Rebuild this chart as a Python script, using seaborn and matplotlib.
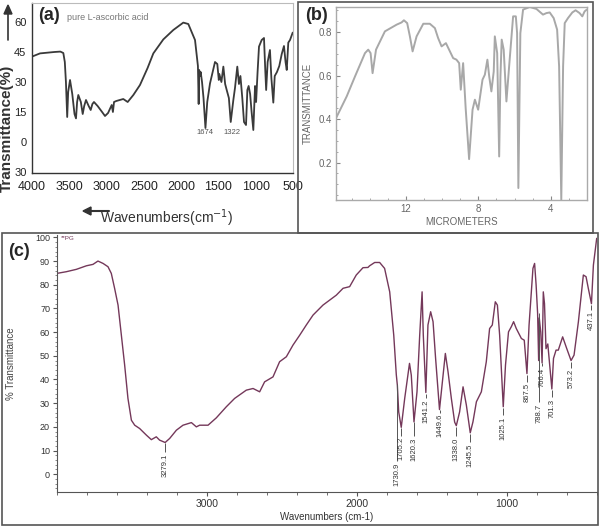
import matplotlib
matplotlib.use("Agg")
import matplotlib.pyplot as plt
from matplotlib.patches import Rectangle
from matplotlib.ticker import MultipleLocator
import seaborn as sns

# -----------------------------
# (a) pure L-ascorbic acid, % transmittance vs wavenumber
# -----------------------------
a_wavenumber = [4000, 3893, 3700, 3620, 3580, 3560, 3545, 3528, 3515, 3490, 3460, 3430,
                3410, 3395, 3379, 3345, 3320, 3300, 3276, 3240, 3213, 3190, 3169, 3120,
                3060, 3021, 2980, 2931, 2915, 2900, 2870, 2776, 2717, 2641, 2552, 2450,
                2373, 2239, 2105, 1971, 1904, 1814, 1775, 1765, 1758, 1748, 1738, 1720,
                1700, 1674, 1650, 1613, 1546, 1515, 1495, 1488, 1460, 1434, 1410, 1389,
                1360, 1335, 1300, 1278, 1247, 1225, 1205, 1180, 1157, 1130, 1112, 1095,
                1075, 1055, 1032, 1009, 995, 975, 956, 920, 889, 872, 860, 840, 809,
                790, 764, 745, 715, 684, 651, 621, 600, 584, 563, 540, 504]
a_transmittance = [42.7, 44.3, 45.0, 45.2, 44.5, 40, 30, 12.5, 25, 31, 24, 14,
                   11.8, 20, 23.5, 20, 14, 18, 21, 18, 16, 19, 20, 18,
                   15, 13, 14.5, 18.5, 15, 20, 20.5, 21.5, 20, 23.5, 28.5, 37,
                   44.3, 51.3, 56, 59.7, 59, 51, 38, 19, 36, 33, 35, 30,
                   22, 7, 20, 29.3, 40, 39, 31, 34, 30, 37.7, 29, 26,
                   22, 10, 21, 27, 37.7, 29, 33, 22, 10, 8.5, 26, 28,
                   24, 15, 6, 28, 20, 35, 47.7, 51, 52, 36, 26, 40, 46,
                   32, 19.7, 33, 35, 38, 44, 48, 40, 36, 49.7, 51, 54.7]
a_peak_labels = ["1674", "1322"]
a_peak_wn = [1674, 1322]
a_xticks = [4000, 3500, 3000, 2500, 2000, 1500, 1000, 500]
a_yticks = [-15, 0, 15, 30, 45, 60]
a_yticklabels = ["30", "0", "15", "30", "45", "60"]

# -----------------------------
# (b) transmittance vs micrometers
# -----------------------------
b_micrometers = [15.86, 15.27, 14.81, 14.26, 14.08, 13.95, 13.84, 13.65, 13.16, 12.51,
                 12.24, 12.11, 11.93, 11.78, 11.63, 11.41, 11.04, 10.68, 10.40, 10.22,
                 10.03, 9.79, 9.57, 9.39, 9.21, 9.06, 8.97, 8.84, 8.70, 8.51, 8.32,
                 8.19, 8.01, 7.77, 7.64, 7.50, 7.40, 7.28, 7.15, 7.09, 6.96, 6.85,
                 6.78, 6.71, 6.60, 6.45, 6.30, 6.08, 5.93, 5.86, 5.79, 5.68, 5.53,
                 5.16, 4.79, 4.43, 4.24, 4.06, 3.84, 3.65, 3.54, 3.42, 3.32, 3.23,
                 3.05, 2.81, 2.63, 2.41, 2.26, 2.13, 2.01]
b_transmittance = [0.404, 0.504, 0.596, 0.703, 0.719, 0.703, 0.611, 0.719, 0.803, 0.834,
                   0.844, 0.854, 0.841, 0.780, 0.711, 0.780, 0.838, 0.838, 0.818, 0.772,
                   0.734, 0.749, 0.711, 0.680, 0.673, 0.657, 0.535, 0.657, 0.45, 0.216, 0.443,
                   0.489, 0.443, 0.581, 0.604, 0.673, 0.596, 0.527, 0.619, 0.780, 0.703, 0.228,
                   0.596, 0.765, 0.719, 0.481, 0.642, 0.872, 0.872, 0.795, 0.083, 0.795, 0.903,
                   0.915, 0.906, 0.880, 0.887, 0.890, 0.864, 0.811, 0.642, 0.029, 0.642, 0.841,
                   0.864, 0.890, 0.900, 0.887, 0.872, 0.895, 0.903]
b_xticks = [12, 8, 4]
b_yticks = [0.2, 0.4, 0.6, 0.8]

# -----------------------------
# (c) % transmittance vs wavenumber, with peak picks
# -----------------------------
c_wavenumber = [4000, 3938, 3871, 3804, 3760, 3727, 3693, 3660, 3638, 3616, 3593, 3571,
                3549, 3527, 3504, 3482, 3449, 3404, 3371, 3338, 3316, 3279, 3249, 3204,
                3160, 3104, 3071, 3049, 2993, 2938, 2871, 2816, 2738, 2693, 2649, 2616,
                2560, 2516, 2471, 2427, 2382, 2338, 2293, 2227, 2182, 2138, 2093, 2049,
                2005, 1960, 1927, 1916, 1882, 1849, 1816, 1782, 1755, 1738, 1731, 1722,
                1705, 1682, 1650, 1638, 1620, 1600, 1582, 1566, 1558, 1541, 1527, 1509,
                1493, 1476, 1450, 1431, 1411, 1393, 1371, 1349, 1338, 1316, 1293, 1271,
                1245, 1227, 1204, 1171, 1138, 1116, 1098, 1078, 1064, 1049, 1025, 1010,
                990, 971, 956, 938, 904, 885, 867, 853, 827, 816, 806, 796, 789, 785,
                775, 766, 758, 750, 740, 728, 701, 690, 673, 658, 629, 602, 573, 553,
                524, 491, 473, 458, 437, 424, 402]
c_transmittance = [84.8, 85.5, 86.5, 88.0, 88.6, 90.0, 89.0, 87.6, 84.8, 78.5, 71.4, 58.7,
                   46.1, 32.0, 22.8, 20.7, 19.3, 16.5, 14.6, 15.8, 14.4, 13.4, 15.1, 18.6,
                   20.7, 21.8, 20.0, 20.7, 20.7, 23.8, 28.5, 32.0, 35.5, 36.2, 34.8, 39.0,
                   41.1, 47.5, 49.6, 54.5, 58.7, 63.0, 67.2, 71.4, 73.5, 75.6, 78.5, 79.2,
                   84.1, 87.2, 87.3, 88.0, 89.4, 89.4, 86.9, 77.0, 58.7, 42.0, 37.6, 26.3,
                   19.8, 32.0, 46.8, 41.8, 22.1, 34.8, 58.7, 77.0, 58.7, 34.5, 63.0, 68.6,
                   64.4, 48.9, 27.3, 39.0, 51.0, 43.2, 32.0, 22.0, 20.5, 26.3, 36.9, 29.2,
                   17.5, 22.1, 30.6, 34.8, 47.5, 61.5, 63.0, 72.8, 71.4, 58.7, 28.5, 46.1,
                   60.1, 62.3, 64.4, 61.5, 57.3, 56.6, 42.5, 62.9, 86.9, 89.0, 80.0, 68.0, 48.0, 66.0,
                   60.0, 47.0, 77.0, 72.0, 53.0, 55.0, 36.0, 48.9, 52.4, 52.4, 58.0, 53.1, 48.0, 50.3,
                   64.4, 84.1, 83.4, 78.5, 72.0, 88.3, 99.6]
c_peak_labels = ["3279.1", "1730.9", "1705.2", "1620.3", "1541.2", "1449.6", "1338.0",
                 "1245.5", "1025.1", "867.5", "788.7", "766.4", "701.3", "573.2", "437.1"]
c_peak_wn = [3279.1, 1730.9, 1705.2, 1620.3, 1541.2, 1449.6, 1338.0,
             1245.5, 1025.1, 867.5, 788.7, 766.4, 701.3, 573.2, 437.1]
c_peak_top = [13.0, 38.0, 19.5, 22.0, 34.0, 27.0, 20.0, 17.0, 28.0, 42.0, 68.0, 47.0, 35.5, 47.5, 71.5]
c_peak_bottom = [9.5, 5.5, 16.3, 16.0, 32.0, 26.0, 16.0, 13.5, 25.0, 39.0, 30.5, 45.5, 32.5, 45.0, 69.5]
c_xticks = [3000, 2000, 1000]
c_yticks = [0, 10, 20, 30, 40, 50, 60, 70, 80, 90, 100]

sns.set_style("white")
plt.rcParams["font.family"] = ["Liberation Sans", "DejaVu Sans"]

W, H = 600, 527
fig = plt.figure(figsize=(6, 5.27), dpi=100)


def box(left, top, right, bottom):
    # pixel box (from top-left) -> figure fraction rect
    return [left / W, 1 - bottom / H, (right - left) / W, (bottom - top) / H]


# -----------------------------
# Panel (a)
# -----------------------------
ax_a = fig.add_axes(box(32, 3, 293, 173))
sns.lineplot(x=a_wavenumber, y=a_transmittance, ax=ax_a, color="#3a3a3a",
             linewidth=1.3, sort=False, estimator=None)
ax_a.set_xlim(4000, 500)
ax_a.set_ylim(-15.5, 69.5)
ax_a.set_xticks(a_xticks)
ax_a.set_xticklabels([str(t) for t in a_xticks], fontsize=9, color="#222")
ax_a.set_yticks(a_yticks)
ax_a.set_yticklabels(a_yticklabels, fontsize=8, color="#222")
ax_a.tick_params(axis="x", direction="out", length=2, width=0.8, pad=4, color="#333")
ax_a.tick_params(axis="y", direction="out", length=2, width=0.8, pad=2, color="#333")
for side in ["left", "bottom"]:
    ax_a.spines[side].set_color("#333")
    ax_a.spines[side].set_linewidth(1.0)
for side in ["top", "right"]:
    ax_a.spines[side].set_color("#bbbbbb")
    ax_a.spines[side].set_linewidth(0.8)
for lab, wn in zip(a_peak_labels, a_peak_wn):
    ax_a.text(wn, 4.5, lab, fontsize=5.5, color="#555", ha="center", va="center")
ax_a.text(0.025, 0.9, "(a)", transform=ax_a.transAxes, fontsize=13, fontweight="bold")
ax_a.text(0.135, 0.9, "pure L-ascorbic acid", transform=ax_a.transAxes,
          fontsize=6.5, color="#777")
fig.text(7 / W, 1 - 128 / H, "Transmittance(%)", rotation=90, ha="center", va="center",
         fontsize=11, fontweight="bold", color="#333")
fig.text(167 / W, 1 - 218 / H, "Wavenumbers(cm$^{-1}$)", ha="center", va="center",
         fontsize=10, color="#333")
fig.add_artist(plt.Line2D([8 / W, 8 / W], [1 - 40 / H, 1 - 12 / H], color="#333", lw=1.2))
fig.patches.append(plt.Polygon([[4 / W, 1 - 14 / H], [12 / W, 1 - 14 / H], [8 / W, 1 - 5 / H]],
                               closed=True, color="#333", transform=fig.transFigure))
fig.add_artist(plt.Line2D([89 / W, 109 / W], [1 - 211 / H, 1 - 211 / H], color="#333", lw=1.5))
fig.patches.append(plt.Polygon([[91 / W, 1 - 207 / H], [91 / W, 1 - 215 / H], [83 / W, 1 - 211 / H]],
                               closed=True, color="#333", transform=fig.transFigure))

# -----------------------------
# Panel (b)
# -----------------------------
ax_b = fig.add_axes(box(336, 7, 587, 200))
sns.lineplot(x=b_micrometers, y=b_transmittance, ax=ax_b, color="#a8a8a8",
             linewidth=1.4, sort=False, estimator=None)
ax_b.set_xlim(15.86, 2.0)
ax_b.set_ylim(0.028, 0.915)
ax_b.set_xticks(b_xticks)
ax_b.set_yticks(b_yticks)
ax_b.xaxis.set_minor_locator(MultipleLocator(1))
ax_b.yaxis.set_minor_locator(MultipleLocator(0.05))
ax_b.tick_params(axis="both", which="major", direction="in", length=3, color="#888",
                 labelsize=7, labelcolor="#666", pad=3)
ax_b.tick_params(axis="both", which="minor", direction="in", length=1.5, color="#999")
ax_b.tick_params(axis="x", which="both", bottom=True)
ax_b.tick_params(axis="y", which="both", left=True)
for side in ax_b.spines:
    ax_b.spines[side].set_color("#aaaaaa")
    ax_b.spines[side].set_linewidth(1.0)
ax_b.set_xlabel("MICROMETERS", fontsize=7, color="#666", labelpad=2)
ax_b.set_ylabel("TRANSMITTANCE", fontsize=7, color="#666", labelpad=4)
fig.text(305 / W, 1 - 15 / H, "(b)", fontsize=13, fontweight="bold", va="center")

# -----------------------------
# Panel (c)
# -----------------------------
ax_c = fig.add_axes(box(57, 235, 597, 492))
sns.lineplot(x=c_wavenumber, y=c_transmittance, ax=ax_c, color="#74385a",
             linewidth=1.0, sort=False, estimator=None)
ax_c.set_xlim(4000, 400)
ax_c.set_ylim(-7.5, 101)
ax_c.set_xticks(c_xticks)
ax_c.set_yticks(c_yticks)
ax_c.xaxis.set_minor_locator(MultipleLocator(200))
ax_c.yaxis.set_minor_locator(MultipleLocator(2))
ax_c.tick_params(axis="x", which="major", direction="out", length=3, labelsize=7.5,
                 labelcolor="#333", color="#555", bottom=True, pad=2)
ax_c.tick_params(axis="x", which="minor", direction="out", length=2, color="#555", bottom=True)
ax_c.tick_params(axis="y", which="major", direction="out", length=3, labelsize=6.5,
                 labelcolor="#333", color="#555", left=True, pad=2)
ax_c.tick_params(axis="y", which="minor", direction="out", length=1.5, color="#777", left=True)
for side in ["top", "right"]:
    ax_c.spines[side].set_visible(False)
for side in ["left", "bottom"]:
    ax_c.spines[side].set_color("#555")
    ax_c.spines[side].set_linewidth(0.8)
ax_c.vlines(c_peak_wn, c_peak_bottom, c_peak_top, color="#555", linewidth=0.7)
for lab, wn, yb in zip(c_peak_labels, c_peak_wn, c_peak_bottom):
    ax_c.text(wn, yb - 0.6, lab, rotation=90, ha="center", va="top",
              fontsize=5.5, color="#333")
ax_c.set_xlabel("Wavenumbers (cm-1)", fontsize=7, color="#333", labelpad=2)
ax_c.set_ylabel("% Transmittance", fontsize=7, color="#444", labelpad=14)
ax_c.text(0.008, 0.985, "**PG", transform=ax_c.transAxes, fontsize=4.5,
          color="#74385a", va="center")
fig.text(8 / W, 1 - 252 / H, "(c)", fontsize=13, fontweight="bold", va="center")

# -----------------------------
# Panel frames
# -----------------------------
fig.add_artist(Rectangle((298 / W, 1 - 233 / H), (593 - 298) / W, 231.5 / H,
                         transform=fig.transFigure, fill=False, ec="#555", lw=1.2))
fig.add_artist(Rectangle((2 / W, 1 - 525 / H), 596 / W, (525 - 233) / H,
                         transform=fig.transFigure, fill=False, ec="#555", lw=1.2))

plt.savefig("out.png", dpi=100)
plt.close()
